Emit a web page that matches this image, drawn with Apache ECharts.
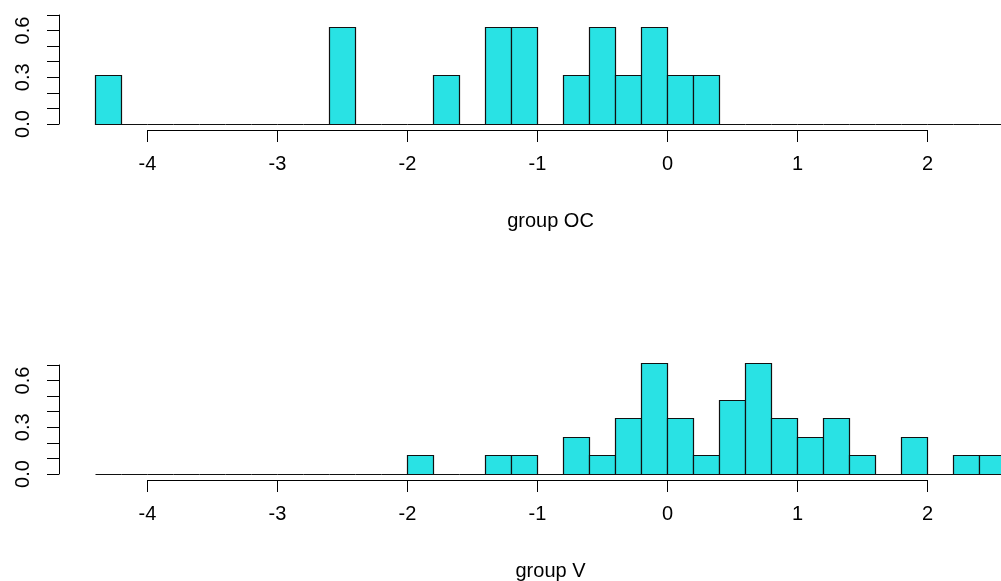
<!DOCTYPE html>
<html>
<head>
<meta charset="utf-8">
<script src="https://cdn.jsdelivr.net/npm/echarts@6/dist/echarts.min.js"></script>
<style>
  html, body { margin: 0; padding: 0; background: #fff; }
  #chart { width: 1001px; height: 581px; }
</style>
</head>
<body>
<div id="chart"></div>
<script>
// histogram breaks (bin edges), width 0.2
var binEdges = [-4.4, -4.2, -4.0, -3.8, -3.6, -3.4, -3.2, -3.0, -2.8, -2.6, -2.4, -2.2,
  -2.0, -1.8, -1.6, -1.4, -1.2, -1.0, -0.8, -0.6, -0.4, -0.2, 0.0, 0.2, 0.4, 0.6,
  0.8, 1.0, 1.2, 1.4, 1.6, 1.8, 2.0, 2.2, 2.4, 2.6];

// density per bin
var densityOC = [0.3125, 0, 0, 0, 0, 0, 0, 0, 0, 0.625, 0, 0,
  0, 0.3125, 0, 0.625, 0.625, 0, 0.3125, 0.625, 0.3125, 0.625, 0.3125, 0.3125, 0, 0,
  0, 0, 0, 0, 0, 0, 0, 0, 0];
var densityV = [0, 0, 0, 0, 0, 0, 0, 0, 0, 0, 0, 0,
  0.119, 0, 0, 0.119, 0.119, 0, 0.238, 0.119, 0.357, 0.714, 0.357, 0.119, 0.476, 0.714,
  0.357, 0.238, 0.357, 0.119, 0, 0.238, 0, 0.119, 0.119];

var xTicks = [-4, -3, -2, -1, 0, 1, 2];
var yTickLabels = ['0.0', '0.3', '0.6'];
var panelNames = ['group OC', 'group V'];

var fontFam = "'Liberation Sans', Arial, sans-serif";
var barFill = '#29E2E4';

function toBins(dens) {
  var out = [];
  for (var i = 0; i < dens.length; i++) {
    out.push([binEdges[i], binEdges[i + 1], dens[i]]);
  }
  return out;
}

function renderBar(params, api) {
  var p0 = api.coord([api.value(0), 0]);
  var p1 = api.coord([api.value(1), api.value(2)]);
  var x0 = Math.round(p0[0]) + 0.5, x1 = Math.round(p1[0]) + 0.5;
  var yb = Math.round(p0[1]) + 0.5, yt = Math.round(p1[1]) + 0.5;
  return {
    type: 'rect',
    shape: { x: x0, y: yt, width: x1 - x0, height: yb - yt },
    style: { fill: barFill, stroke: '#111', lineWidth: 1.2 }
  };
}

var myChart = echarts.init(document.getElementById('chart'), null, { renderer: 'canvas' });

// plot region: x from -4.68 (left edge, 59px) at 130px per unit
var xMin = -4.68, xMax = 2.566;
var panelTop = [15, 365];
var axisTop = [129, 479];

var grids = [], xAxes = [], yAxes = [], series = [], texts = [];
[densityOC, densityV].forEach(function (dens, k) {
  // bars + y axis
  grids.push({ left: 59, right: 0, top: panelTop[k], height: 109 });
  // separate x axis (drawn from -4 to 2 like R)
  grids.push({ left: 147.5, width: 780, top: axisTop[k], height: 1 });

  xAxes.push({
    gridIndex: 2 * k, type: 'value', min: xMin, max: xMax, show: false
  });
  xAxes.push({
    gridIndex: 2 * k + 1, type: 'value', min: xTicks[0], max: xTicks[xTicks.length - 1], interval: 1,
    axisLine: { lineStyle: { color: '#000', width: 1 } },
    axisTick: { length: 12, lineStyle: { color: '#000' } },
    axisLabel: { margin: 24, color: '#000', fontSize: 20, fontFamily: fontFam,
      formatter: function (v) { return xTicks.indexOf(v) >= 0 ? String(v) : ''; } },
    splitLine: { show: false }
  });

  yAxes.push({
    gridIndex: 2 * k, type: 'value', min: 0, max: 0.7, interval: 0.1, position: 'left',
    axisLine: { show: true, onZero: false, lineStyle: { color: '#000', width: 1 } },
    axisTick: { show: true, length: 12, lineStyle: { color: '#000' } },
    axisLabel: { rotate: 90, margin: 26, color: '#000', fontSize: 20, fontFamily: fontFam,
      showMaxLabel: true, showMinLabel: true,
      formatter: function (v) {
        var s = v.toFixed(1);
        return yTickLabels.indexOf(s) >= 0 ? s : '';
      } },
    splitLine: { show: false }
  });
  yAxes.push({ gridIndex: 2 * k + 1, type: 'value', show: false });

  series.push({
    type: 'custom',
    xAxisIndex: 2 * k, yAxisIndex: 2 * k,
    renderItem: renderBar,
    data: toBins(dens),
    clip: false,
    silent: true
  });

  texts.push({
    type: 'text', x: 550.5, y: [211, 561][k],
    style: { text: panelNames[k], fill: '#000', font: '20px ' + fontFam, textAlign: 'center' }
  });
});

var option = {
  animation: false,
  backgroundColor: '#fff',
  grid: grids,
  xAxis: xAxes,
  yAxis: yAxes,
  series: series,
  graphic: texts
};
myChart.setOption(option);
</script>
</body>
</html>
